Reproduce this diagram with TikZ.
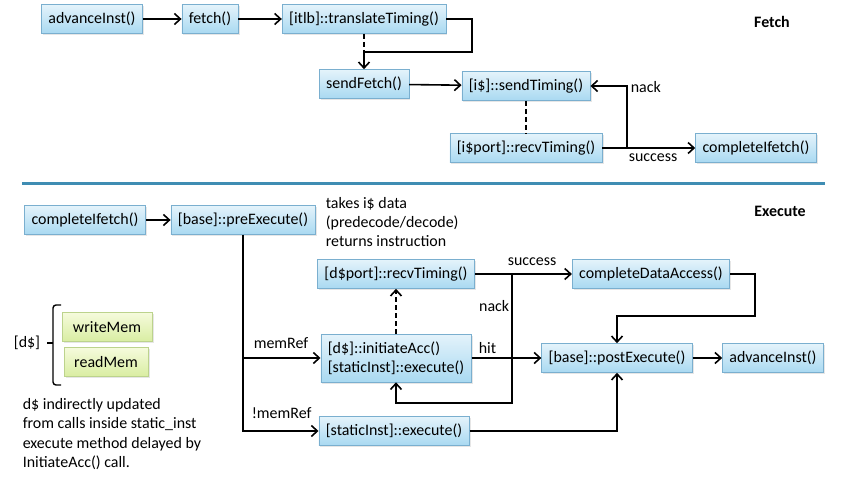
\documentclass[tikz,border=0pt]{standalone}
\usepackage{fontspec}
\setmainfont{Carlito}
\usetikzlibrary{arrows.meta, shadows}
\definecolor{boxtop}{HTML}{E4F3FB}
\definecolor{boxbot}{HTML}{A9D9F1}
\definecolor{boxline}{HTML}{7AAFCF}
\definecolor{memtop}{HTML}{F6FBDC}
\definecolor{membot}{HTML}{D9EDA2}
\definecolor{memline}{HTML}{BCD38C}
\definecolor{sepline}{HTML}{3F8DB3}

\begin{document}
\begin{tikzpicture}[x=1bp, y=-1bp, line width=1.6bp, >={Straight Barb[length=6bp, width=11bp]},
    every node/.style={font=\fontsize{16}{19}\selectfont},
    fn/.style={draw=boxline, line width=0.6bp, top color=boxtop, bottom color=boxbot, minimum height=29bp, inner xsep=7bp,
        drop shadow={opacity=0.2, shadow xshift=1.5bp, shadow yshift=-1.5bp}},
    mem/.style={fn, draw=memline, top color=memtop, bottom color=membot},
    lbl/.style={inner sep=1bp},
    dashline/.style={dash pattern=on 5bp off 3bp},
    note/.style={inner sep=0pt, align=left, font=\fontsize{16}{19.5}\selectfont}]
    \useasboundingbox (0,0) rectangle (850,484);

    % fetch
    \node[fn] at (92,19)   (adv) {advanceInst()};
    \node[fn] at (210,19)  (fetch) {fetch()};
    \node[fn] at (364,19)  (itlb) {[itlb]::translateTiming()};
    \node[fn] at (364,84)  (sendf) {sendFetch()};
    \node[fn] at (526,86)  (sendt) {[i\$]::sendTiming()};
    \node[fn] at (526,148) (irecv) {[i\$port]::recvTiming()};
    \node[fn] at (756,148) (cif) {completeIfetch()};
    \node[font=\fontsize{16}{19}\selectfont\bfseries] at (772,22) (fetchlbl) {Fetch};
    \coordinate (itlbr) at (472,52);
    \coordinate (itlbj) at (364,52);
    \coordinate (ij) at (627,148);

    \draw [->] (adv) -- (fetch);
    \draw [->] (fetch) -- (itlb);
    \draw [->] (itlb.east) -| (itlbr) -- (itlbj) -- (sendf);
    \draw [dashline] (itlb) -- (itlbj);
    \draw [->] (sendf) -- (sendt);
    \draw [dashline] (sendt) -- (irecv);
    \draw [->] (irecv) -- (cif);
    \draw [->] (ij) |- (sendt);
    \node[lbl, anchor=west] at (629,87) (nack1) {nack};
    \node[lbl, anchor=west] at (627,158) (succ1) {success};

    \draw [sepline, line width=3bp] (22,184) -- (825,184);

    % execute
    \node[fn] at (85,220)  (cif2) {completeIfetch()};
    \node[fn] at (243,220) (pre) {[base]::preExecute()};
    \node[fn] at (396,274) (drecv) {[d\$port]::recvTiming()};
    \node[fn, align=left, minimum height=48bp] at (396,358) (iacc) {[d\$]::initiateAcc()\\{[staticInst]::execute()}};
    \node[fn] at (394,431) (sexe) {[staticInst]::execute()};
    \node[fn] at (651,274) (cda) {completeDataAccess()};
    \node[fn] at (617,358) (post) {[base]::postExecute()};
    \node[fn] at (773,358) (adv2) {advanceInst()};
    \node[font=\fontsize{16}{19}\selectfont\bfseries] at (780,211) (execlbl) {Execute};
    \node[note, anchor=west] at (325,222) (takes) {takes i\$ data\\(predecode/decode)\\returns instruction};
    \coordinate (dj) at (512,274);
    \coordinate (dlow) at (512,403);
    \coordinate (cdar) at (755,316);
    \coordinate (cdaj) at (617,316);

    \draw [->] (cif2) -- (pre);
    \draw [->] (pre) |- (iacc);
    \draw [->] (pre) |- (sexe);
    \draw [->, dashline] (iacc) -- (drecv);
    \draw [->] (drecv) -- (cda);
    \draw [->] (dj) -- (dlow) -| (iacc);
    \draw [->] (iacc) -- (post);
    \draw [->] (sexe) -| (post);
    \draw [->] (cda.east) -| (cdar) -- (cdaj) -- (post);
    \draw [->] (post) -- (adv2);
    \node[lbl, anchor=west] at (252,343) (memref) {memRef};
    \node[lbl, anchor=west] at (250,413) (nomemref) {!memRef};
    \node[lbl, anchor=east] at (511,306) (nack2) {nack};
    \node[lbl, anchor=west] at (506,262) (succ2) {success};
    \node[lbl, anchor=west] at (477,348) (hit) {hit};

    % d$ side note
    \node[mem, minimum width=90bp] at (107,327) (wmem) {writeMem};
    \node[mem, minimum width=84bp] at (106,362) (rmem) {readMem};
    \node at (27,343) (dlbl) {[d\$]};
    \draw [line width=1.4bp, rounded corners=3bp] (61,305) -| (53,385) -- (61,385);
    \draw [line width=1.4bp] (53,343) -- (47,343);
    \node[note, anchor=west] at (22,434) (dnote) {d\$ indirectly updated\\from calls inside static\_inst\\execute method delayed by\\InitiateAcc() call.};
\end{tikzpicture}
\end{document}
